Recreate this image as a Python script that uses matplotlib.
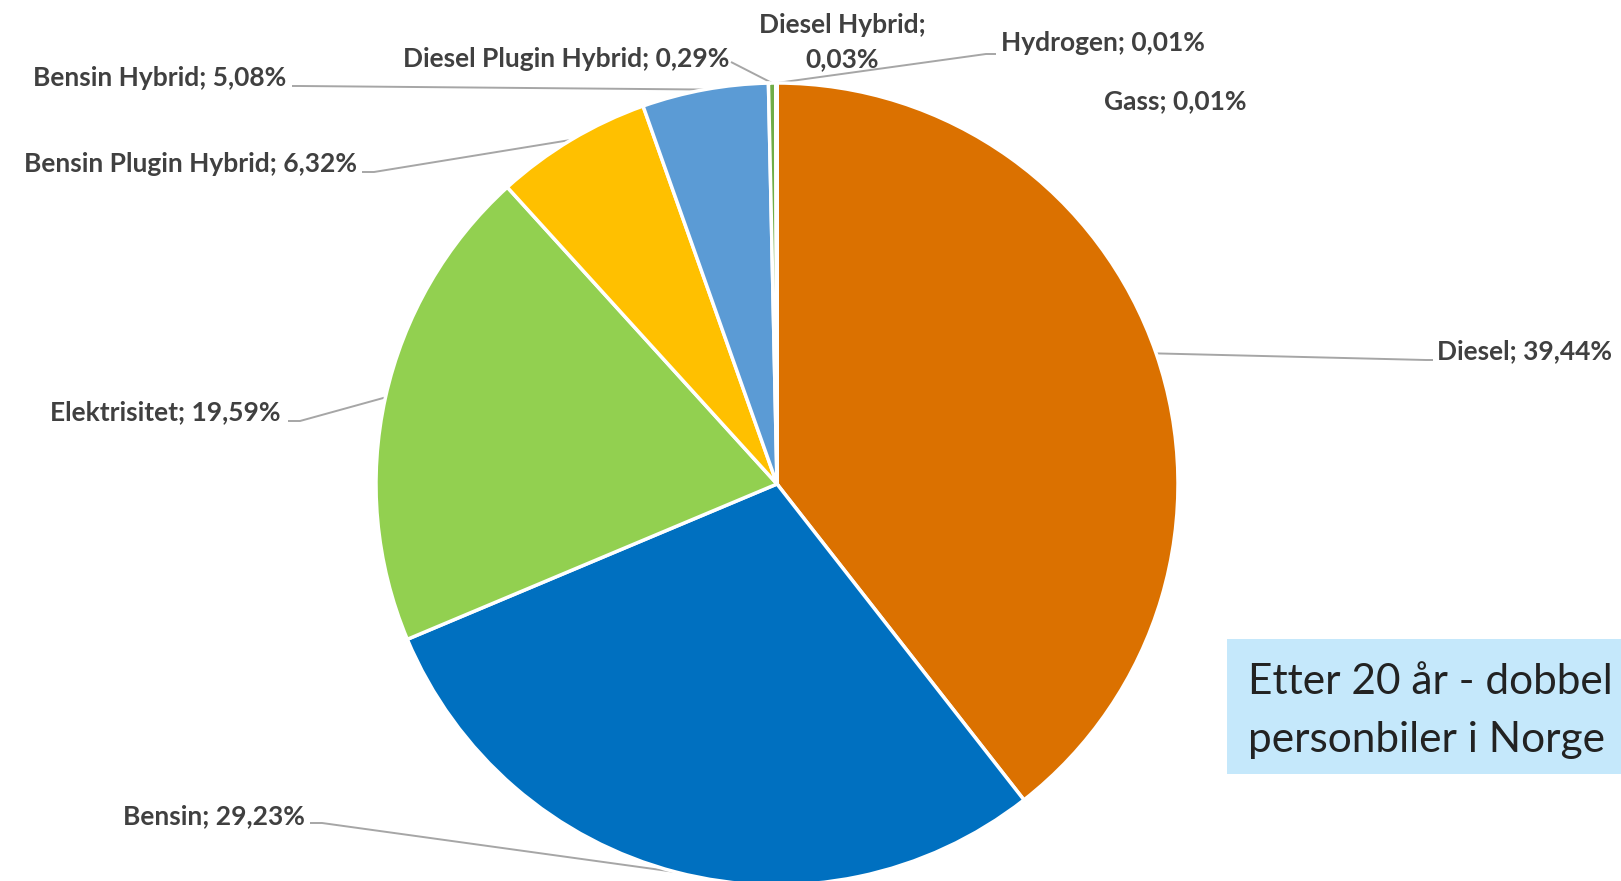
#!/usr/bin/env python3

import numpy as np
import matplotlib
matplotlib.use("Agg")
import matplotlib.pyplot as plt
from matplotlib.patches import Rectangle

# Fuel shares of the Norwegian passenger car fleet
categories = ["Diesel", "Bensin", "Elektrisitet", "Bensin Plugin Hybrid",
              "Bensin Hybrid", "Diesel Plugin Hybrid", "Diesel Hybrid",
              "Hydrogen", "Gass"]
shares = [39.44, 29.23, 19.59, 6.32, 5.08, 0.29, 0.03, 0.01, 0.01]
label_texts = ["Diesel; 39,44%", "Bensin; 29,23%", "Elektrisitet; 19,59%",
               "Bensin Plugin Hybrid; 6,32%", "Bensin Hybrid; 5,08%",
               "Diesel Plugin Hybrid; 0,29%", "Diesel Hybrid;\n0,03%",
               "Hydrogen; 0,01%", "Gass; 0,01%"]
colors = ["#DB7100", "#0070C0", "#92D050", "#FFC000", "#5B9BD5",
          "#70AD47", "#A5A5A5", "#264478", "#9E480E"]

box_lines = ["Etter 20 år - dobbel", "personbiler i Norge"]

# figure laid out in pixel coordinates (y pointing down)
W, H = 1621, 881
CX, CY, R = 777, 484, 401

# label placement: text anchor, alignment, elbow point and end of leader (None = no line)
label_pos = {
    "Diesel":               ((1437, 351), "left",   (1426, 360), (1433, 360)),
    "Bensin":               ((305, 816),  "right",  (322, 823),  (310, 823)),
    "Elektrisitet":         ((280, 412),  "right",  (300, 421),  (288, 421)),
    "Bensin Plugin Hybrid": ((357, 164),  "right",  (374, 172),  (362, 172)),
    "Bensin Hybrid":        ((286, 78),   "right",  (300, 86),   (292, 86)),
    "Diesel Plugin Hybrid": ((729, 59),   "right",  (731, 62),   (731, 62)),
    "Diesel Hybrid":        ((842, 42),   "center", None,        None),
    "Hydrogen":             ((1001, 43),  "left",   (986, 54),   (996, 54)),
    "Gass":                 ((1104, 101), "left",   None,        None),
}

plt.rcParams["font.family"] = ["Lato", "DejaVu Sans"]

fig = plt.figure(figsize=(W / 100, H / 100), dpi=100)
ax = fig.add_axes([0, 0, 1, 1])

wedges, _ = ax.pie(shares, colors=colors, center=(CX, CY), radius=R,
                   startangle=-90, counterclock=True,
                   wedgeprops=dict(edgecolor="white", linewidth=2.5))

ax.set_xlim(0, W)
ax.set_ylim(H, 0)
ax.set_aspect("auto")
ax.axis("off")

for cat, txt, w in zip(categories, label_texts, wedges):
    (tx, ty), ha, elbow, end = label_pos[cat]
    ax.text(tx, ty, txt, ha=ha, va="center", fontsize=19, fontweight="bold",
            color="#404040", linespacing=1.5)
    if elbow is None:
        continue
    mid = np.deg2rad((w.theta1 + w.theta2) / 2)
    ex, ey = CX + R * np.cos(mid), CY + R * np.sin(mid)
    ax.plot([ex, elbow[0], end[0]], [ey, elbow[1], end[1]],
            color="#A6A6A6", lw=1.4, solid_capstyle="butt", zorder=0.5)

# note box, running off the right edge like on the original slide
ax.add_patch(Rectangle((1227, 639), 500, 135, facecolor="#C5E8FB",
                       edgecolor="none", clip_on=False))
ax.text(1248, 694, box_lines[0], fontsize=30.5, color="#222222", va="baseline")
ax.text(1248, 752, box_lines[1], fontsize=30.5, color="#222222", va="baseline")

fig.savefig("out.png", dpi=100)
